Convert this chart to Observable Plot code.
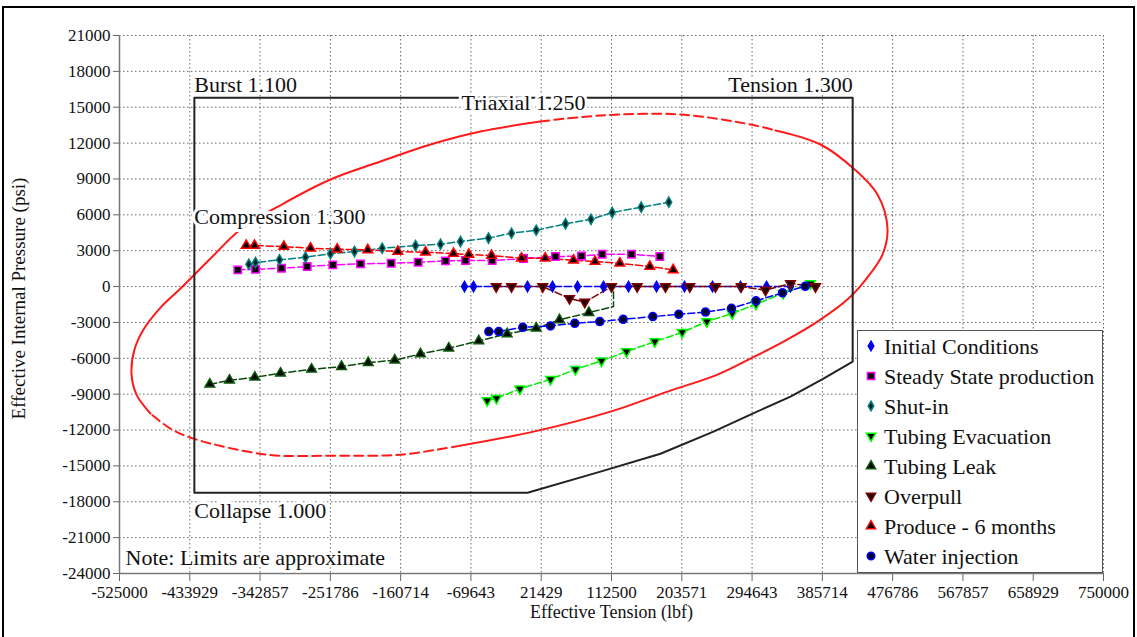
<!DOCTYPE html>
<html>
<head>
<meta charset="utf-8">
<script src="https://cdn.jsdelivr.net/npm/d3@7"></script>
<script src="https://cdn.jsdelivr.net/npm/@observablehq/plot@0.6"></script>
<style>
  body { margin: 0; background: #fff; }
  #wrap { position: relative; width: 1137px; height: 637px; overflow: hidden; background: #fff; font-family: 'Liberation Serif', 'Times New Roman', serif; }
  #frame { position: absolute; left: 2px; top: 6px; width: 1129px; height: 650px; border: 2.5px solid #000; pointer-events: none; }
  #legend { position: absolute; left: 857px; top: 330px; width: 244px; height: 241px; border: 1.5px solid #555; background: #fff; }
  svg text { font-family: 'Liberation Serif', 'Times New Roman', serif; }
</style>
</head>
<body>
<div id="wrap"><div id="frame"></div></div>
<script>
// ---------- axis ticks ----------
const xTicks = [-525000, -433929, -342857, -251786, -160714, -69643, 21429, 112500, 203571, 294643, 385714, 476786, 567857, 658929, 750000];
const yTicks = [21000, 18000, 15000, 12000, 9000, 6000, 3000, 0, -3000, -6000, -9000, -12000, -15000, -18000, -21000, -24000];

// ---------- series ----------
const seriesNames = ["Initial Conditions", "Steady State production", "Shut-in", "Tubing Evacuation", "Tubing Leak", "Overpull", "Produce - 6 months", "Water injection"];

const initialX = [-78000, -66300, 3650, 36050, 68440, 102130, 134520, 170800, 207090, 243370, 279650, 313340, 344440];
const initialY = [0, 0, 0, 0, 0, 0, 0, 0, 0, 0, 0, 0, 0];

const steadyX = [-371720, -348780, -315090, -281790, -248620, -212730, -172950, -137970, -102590, -76680, -42080, -1525, 39940, 73630, 100450, 138410, 175080];
const steadyY = [1397, 1448, 1531, 1674, 1816, 1900, 1950, 2034, 2151, 2176, 2176, 2343, 2510, 2552, 2703, 2703, 2510];

const shutinX = [-357460, -348780, -317680, -283990, -251600, -220500, -184610, -141460, -109070, -83160, -46880, -17070, 14930, 52900, 85940, 113410, 150980, 186750];
const shutinY = [1866, 2008, 2234, 2461, 2745, 2929, 3205, 3431, 3540, 3766, 4058, 4460, 4711, 5247, 5623, 6192, 6636, 7054];

const evacX = [-48560, -36510, -6320, 33460, 65850, 99540, 131930, 168600, 204110, 235980, 268890, 299730, 334980, 370350];
const evacY = [-9540, -9347, -8560, -7757, -6920, -6217, -5439, -4602, -3824, -2929, -2259, -1464, -561, 251];

const leakX = [-408000, -382470, -349690, -316390, -276220, -237350, -202750, -168290, -134990, -98320, -59440, -22650, 14930, 45120, 83090, 115090, 115090];
const leakY = [-8176, -7841, -7590, -7255, -6920, -6694, -6360, -6158, -5632, -5163, -4544, -3958, -3489, -2787, -2176, -1674, 0];
const leakMarker = [1, 1, 1, 1, 1, 1, 1, 1, 1, 1, 1, 1, 1, 1, 1, 0, 0];

const overpullX = [-36900, -17070, 23480, 58080, 77900, 112500, 145800, 182470, 213950, 247250, 280550, 312040, 344435, 376830];
const overpullY = [0, 0, 0, -1000, -1300, 0, 0, 0, 0, 0, 0, -300, 250, 0];

const produceX = [-360830, -350080, -312110, -277520, -242920, -203270, -164400, -128510, -92230, -72400, -42990, -4120, 26590, 63260, 91120, 123250, 162130, 192450];
const produceY = [3431, 3431, 3347, 3205, 3121, 3071, 2929, 2870, 2761, 2678, 2594, 2368, 2368, 2201, 2092, 1950, 1674, 1397];

const waterX = [-46490, -33530, -2430, 33460, 64950, 97340, 127660, 166010, 199700, 234300, 267990, 299730, 334070, 363480];
const waterY = [-3766, -3766, -3406, -3289, -3071, -2929, -2736, -2510, -2318, -2134, -1816, -1188, -527, 25];

// ---------- design limit envelope ----------
const envelopeX = [-428000, 425000, 425000, 387170, 344420, 292590, 244650, 175970, 98230, 3650, -428000, -428000];
const envelopeY = [15800, 15800, -6280, -7700, -9200, -10710, -12130, -13980, -15480, -17240, -17240, 15800];

// triaxial ellipse, closed loop
const ellipseX = [-484830, -502970, -509450, -505560, -493900, -471880, -445960, -407090, -368220, -312500, -251600, -186810, -122030, -57240, 20500, 98250, 201900, 292610, 325000, 383310, 426070, 457160, 470120, 463640, 442910, 419590, 379420, 335370, 292610, 249850, 185060, 111200, 11430, -83160, -160900, -247710, -333230, -429120, -458920, -484830];
const ellipseY = [-10627, -9037, -7280, -5272, -3598, -1757, -167, 2343, 4770, 6945, 8954, 10460, 11883, 12970, 13807, 14309, 14393, 13556, 13054, 11883, 9874, 7699, 4853, 2678, 669, -1004, -2929, -4602, -6025, -7364, -8786, -10460, -12134, -13305, -14058, -14142, -14058, -12719, -11883, -10627];
const ellipseBreaks = [0, 14, 18, 33, 39];
const ellipseRunStyle = ["solid", "dashed", "solid", "dashed"];

// limit labels
const limitLabels = ["Burst 1.100", "Triaxial 1.250", "Tension 1.300", "Compression 1.300", "Collapse 1.000"];
const limitLabelX = [-428000, -1500, 425000, -428000, -428000];
const limitLabelY = [15800, 15800, 15800, 5860, -17240];
const noteText = "Note: Limits are approximate";

// ---------- styles ----------
const downTriangle = {
  draw(context, size) {
    const s3 = Math.sqrt(3);
    const y = -Math.sqrt(size / (s3 * 3));
    context.moveTo(0, -y * 2);
    context.lineTo(-s3 * y, y);
    context.lineTo(s3 * y, y);
    context.closePath();
  }
};
const styles = [
  {line: "#0000ff", fill: "#0000cc", stroke: "#0000ff", sym: d3.symbolDiamond, r: 3.1},
  {line: "#ff00ff", fill: "#000000", stroke: "#ff00ff", sym: d3.symbolSquare, r: 4.2},
  {line: "#008080", fill: "#002020", stroke: "#008080", sym: d3.symbolDiamond, r: 3.1},
  {line: "#00ee00", fill: "#000000", stroke: "#00ff00", sym: downTriangle, r: 3.6},
  {line: "#0a4a0a", fill: "#000000", stroke: "#0a5a0a", sym: d3.symbolTriangle, r: 3.6},
  {line: "#800000", fill: "#200000", stroke: "#800000", sym: downTriangle, r: 3.6},
  {line: "#ff0000", fill: "#000000", stroke: "#ff0000", sym: d3.symbolTriangle, r: 3.6},
  {line: "#0000ff", fill: "#000030", stroke: "#0000ff", sym: d3.symbolCircle, r: 4.0}
];

const zip = (xs, ys, extra = {}) => xs.map((x, i) => ({x, y: ys[i], i, ...extra}));
const seriesData = [
  zip(initialX, initialY), zip(steadyX, steadyY), zip(shutinX, shutinY), zip(evacX, evacY),
  zip(leakX, leakY), zip(overpullX, overpullY), zip(produceX, produceY), zip(waterX, waterY)
];

const ellipsePts = ellipseX.map((x, i) => ({x, y: ellipseY[i]}));
const ellipseRuns = ellipseRunStyle.map((st, k) => ({st, pts: ellipsePts.slice(ellipseBreaks[k], ellipseBreaks[k + 1] + 1)}));
const envelopePts = zip(envelopeX, envelopeY);
const labelData = limitLabels.map((t, i) => ({t, x: limitLabelX[i], y: limitLabelY[i]}));

const font = "'Liberation Serif', 'Times New Roman', serif";
const labelOpts = [
  {textAnchor: "start", dy: -13},
  {textAnchor: "middle", dy: 5},
  {textAnchor: "end", dy: -13},
  {textAnchor: "start", dy: 0},
  {textAnchor: "start", dy: 18}
];

const marks = [
  Plot.ruleX(xTicks.slice(1), {stroke: "#666", strokeWidth: 1, strokeDasharray: "1.5,2.5"}),
  Plot.ruleY(yTicks.slice(0, -1), {stroke: "#666", strokeWidth: 1, strokeDasharray: "1.5,2.5"}),
  Plot.ruleX([xTicks[0]], {stroke: "#777", strokeWidth: 1.5}),
  Plot.ruleY([yTicks[yTicks.length - 1]], {stroke: "#777", strokeWidth: 1.5}),
  ...ellipseRuns.map(run => Plot.line(run.pts, {x: "x", y: "y", stroke: "#ff1a1a", strokeWidth: 2, curve: "catmull-rom", strokeDasharray: run.st === "dashed" ? "9,5" : null})),
  Plot.line(envelopePts, {x: "x", y: "y", stroke: "#222", strokeWidth: 2}),
];
seriesData.forEach((data, k) => {
  const s = styles[k];
  marks.push(Plot.line(data, {x: "x", y: "y", stroke: s.line, strokeWidth: 1.5, strokeDasharray: "7,3"}));
});
seriesData.forEach((data, k) => {
  const s = styles[k];
  const pts = k === 4 ? data.filter(d => leakMarker[d.i]) : data;
  marks.push(Plot.dot(pts, {x: "x", y: "y", symbol: s.sym, r: s.r, fill: s.fill, stroke: s.stroke, strokeWidth: 1.5}));
});
labelData.forEach((d, i) => {
  marks.push(Plot.text([d], {x: "x", y: "y", text: "t", fontSize: 22, fontFamily: font, fill: "#111", stroke: "white", strokeWidth: 6, lineAnchor: "middle", ...labelOpts[i]}));
});
marks.push(Plot.text([noteText], {frameAnchor: "bottom-left", dx: 6, dy: -16, fontSize: 22, fontFamily: font, fill: "#111", stroke: "white", strokeWidth: 5, textAnchor: "start", lineAnchor: "middle"}));
marks.push(Plot.text(["Effective Internal Pressure (psi)"], {frameAnchor: "left", dx: -101, dy: -6, rotate: -90, textAnchor: "middle", lineAnchor: "middle", fontSize: 19, fontFamily: font, fill: "#111"}));
marks.push(Plot.text(["Effective Tension (lbf)"], {frameAnchor: "bottom", dy: 44, fontSize: 18, fontFamily: font, fill: "#111"}));

const chart = Plot.plot({
  width: 1137,
  height: 637,
  marginLeft: 119,
  marginRight: 34,
  marginTop: 35,
  marginBottom: 64,
  x: {domain: [-525000, 750000], ticks: xTicks, tickFormat: d => String(d), tickSize: 8, tickPadding: 4, label: null},
  y: {domain: [-24000, 21000], ticks: yTicks, tickFormat: d => String(d), tickSize: 6, tickPadding: 3, label: null},
  style: {fontFamily: font, fontSize: "17px", color: "#111", background: "transparent", overflow: "visible"},
  marks
});
d3.select(chart).selectAll("[aria-label='x-axis tick'] path, [aria-label='y-axis tick'] path").attr("stroke", "#666");
const wrap = document.getElementById("wrap");
wrap.insertBefore(chart, wrap.firstChild);

// ---------- legend ----------
const leg = d3.select(wrap).append("div").attr("id", "legend");
const lsvg = leg.append("svg").attr("width", 244).attr("height", 241);
seriesNames.forEach((name, i) => {
  const s = styles[i];
  const g = lsvg.append("g").attr("transform", `translate(13,${15 + 30 * i})`);
  g.append("path").attr("d", d3.symbol(s.sym, Math.PI * (s.r * 0.95) ** 2)())
    .attr("fill", s.fill).attr("stroke", s.stroke).attr("stroke-width", 1.5);
  g.append("text").attr("x", 13).attr("dy", "0.35em").style("font-family", font).attr("font-size", 22).attr("fill", "#111").text(name);
});
</script>
</body>
</html>
